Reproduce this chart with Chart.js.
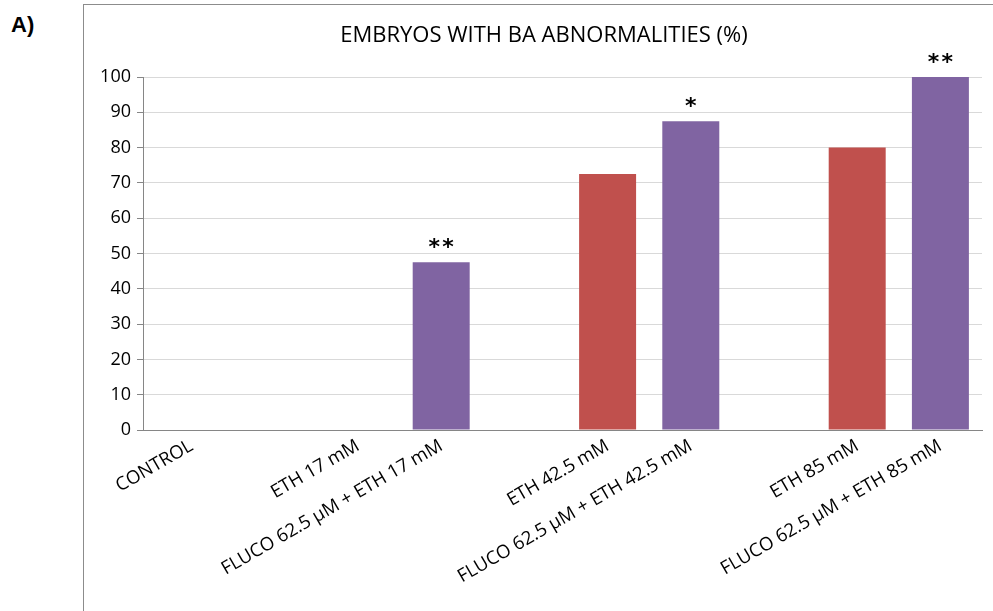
<!DOCTYPE html>
<html>
<head>
<meta charset="utf-8">
<script src="https://cdn.jsdelivr.net/npm/chart.js@4/dist/chart.umd.min.js"></script>
<style>
  html, body { margin: 0; padding: 0; background: #fff; overflow: hidden; }
  body { width: 993px; height: 611px; position: relative; }
  #panel {
    position: absolute; left: 11px; top: 12px;
    font-family: "Liberation Sans", Arial, sans-serif; font-weight: bold; font-size: 22px; color: #000;
  }
  #frame {
    position: absolute; left: 83px; top: 4px; width: 940px; height: 640px;
    border-left: 1px solid #8c8c8c; border-top: 1px solid #8c8c8c;
  }
  #chart { position: absolute; left: 84px; top: 5px; }
</style>
</head>
<body>
<div id="panel">A)</div>
<div id="frame"></div>
<canvas id="chart" width="920" height="606"></canvas>
<script>
// Treatment groups along the x axis (blank entries are spacer slots)
const categories = [
  'CONTROL', '',
  'ETH 17 mM', 'FLUCO 62.5 µM + ETH 17 mM', '',
  'ETH 42.5 mM', 'FLUCO 62.5 µM + ETH 42.5 mM', '',
  'ETH 85 mM', 'FLUCO 62.5 µM + ETH 85 mM'
];
// Embryos with BA abnormalities (%)
const ethValues   = [0, null, 0, null, null, 72.5, null, null, 80, null];
const flucoValues = [null, null, null, 47.5, null, null, 87.5, null, null, 100];
// Significance marks above the bars
const significance = ['', '', '', '**', '', '', '*', '', '', '**'];
const yTicks = [0, 10, 20, 30, 40, 50, 60, 70, 80, 90, 100];
const chartTitle = 'EMBRYOS WITH BA ABNORMALITIES (%)';

const FONT = '"Open Sans", Lato, sans-serif';

const toPoints = arr => arr
  .map((v, i) => ({ x: i, y: v }))
  .filter(p => p.y !== null);

// Title centred on the whole panel, plus significance marks over the bars
const annotatePlugin = {
  id: 'annotate',
  afterDatasetsDraw(chart) {
    const ctx = chart.ctx;
    ctx.save();
    ctx.fillStyle = '#000';
    ctx.textAlign = 'center';

    ctx.font = '22px ' + FONT;
    ctx.textBaseline = 'middle';
    ctx.fillText(chartTitle, chart.width / 2, 31);

    ctx.font = 'bold 22px "DejaVu Sans", sans-serif';
    ctx.textBaseline = 'alphabetic';
    chart.data.datasets.forEach((ds, di) => {
      chart.getDatasetMeta(di).data.forEach((bar, j) => {
        const mark = significance[ds.data[j].x];
        if (mark) ctx.fillText(mark.split('').join('\u200A'), bar.x, bar.y - 8);
      });
    });
    ctx.restore();
  }
};

new Chart(document.getElementById('chart'), {
  type: 'bar',
  data: {
    datasets: [
      { label: 'ETH', data: toPoints(ethValues), backgroundColor: '#C0504D', grouped: false,
        categoryPercentage: 1, barPercentage: 0.685 },
      { label: 'FLUCO 62.5 µM + ETH', data: toPoints(flucoValues), backgroundColor: '#8064A2', grouped: false,
        categoryPercentage: 1, barPercentage: 0.685 }
    ]
  },
  options: {
    responsive: false,
    animation: false,
    layout: { padding: { left: 0, right: 22, top: 72, bottom: 0 } },
    plugins: {
      legend: { display: false },
      tooltip: { enabled: false },
      title: { display: false }
    },
    scales: {
      x: {
        type: 'linear',
        min: -0.584,
        max: 9.5,
        offset: false,
        grid: { display: false },
        border: { display: true, color: '#868686', width: 1 },
        afterBuildTicks: scale => { scale.ticks = categories.map((_, i) => ({ value: i })); },
        afterFit: scale => { scale.height = 181; },
        ticks: {
          autoSkip: false,
          maxRotation: 30,
          minRotation: 30,
          padding: -3,
          color: '#000',
          font: { family: FONT, size: 18.5 },
          callback: v => categories[v] ?? ''
        }
      },
      y: {
        min: 0,
        max: 100,
        afterBuildTicks: scale => { scale.ticks = yTicks.map(v => ({ value: v })); },
        afterFit: scale => { scale.width = 59; },
        grid: { color: '#d9d9d9', tickColor: '#868686', tickLength: 6, drawTicks: true },
        border: { display: true, color: '#868686', width: 1 },
        ticks: {
          padding: 6,
          color: '#000',
          font: { family: FONT, size: 18 }
        }
      }
    }
  },
  plugins: [annotatePlugin]
});
</script>
</body>
</html>
